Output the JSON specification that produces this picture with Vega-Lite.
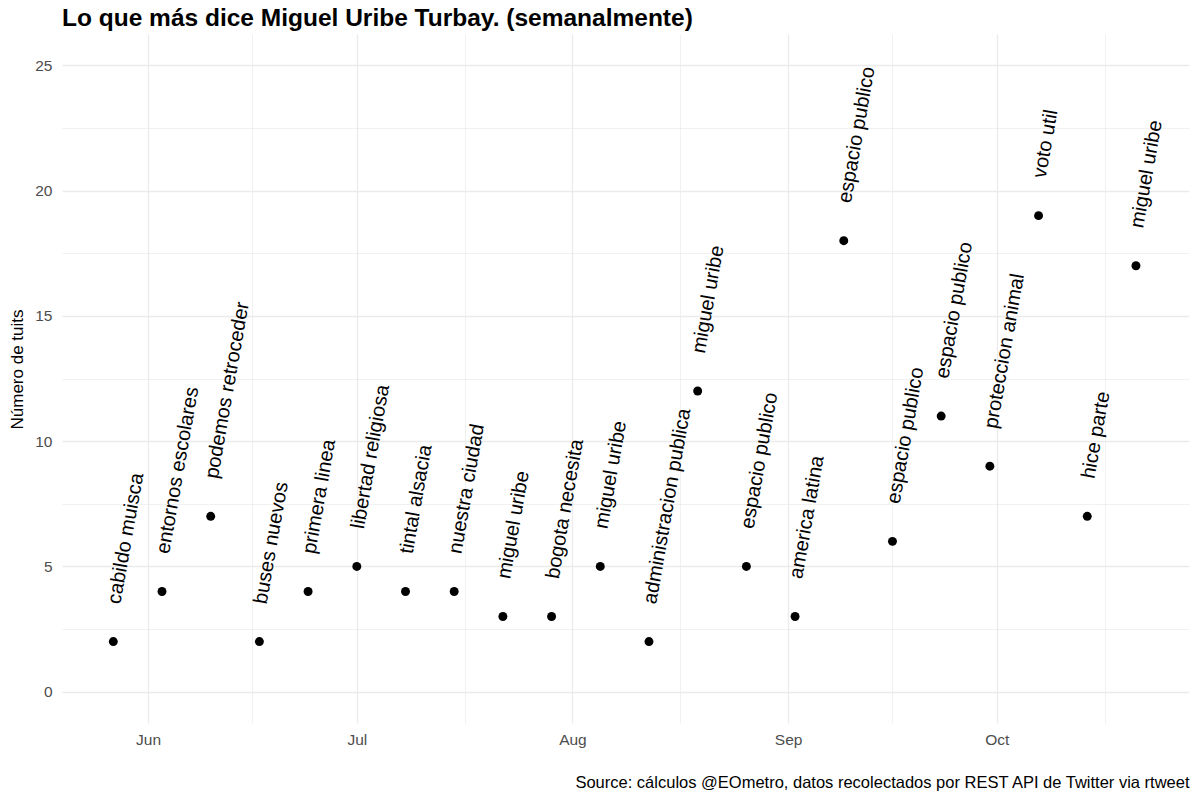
{
  "$schema": "https://vega.github.io/schema/vega-lite/v6.json",
  "width": 1127,
  "height": 689,
  "autosize": {"type": "none"},
  "padding": {"left": 62, "top": 34, "right": 11, "bottom": 80},
  "background": "white",
  "title": {
    "text": "Lo que más dice Miguel Uribe Turbay. (semanalmente)",
    "anchor": "start",
    "frame": "group",
    "font": "Liberation Sans",
    "fontSize": 24.5,
    "fontWeight": "bold",
    "color": "black",
    "offset": 3
  },
  "config": {
    "view": {"stroke": null},
    "font": "Liberation Sans"
  },
  "data": {
    "values": [
      {"week": "2019-05-27", "n": 2, "word": "cabildo muisca"},
      {"week": "2019-06-03", "n": 4, "word": "entornos escolares"},
      {"week": "2019-06-10", "n": 7, "word": "podemos retroceder"},
      {"week": "2019-06-17", "n": 2, "word": "buses nuevos"},
      {"week": "2019-06-24", "n": 4, "word": "primera linea"},
      {"week": "2019-07-01", "n": 5, "word": "libertad religiosa"},
      {"week": "2019-07-08", "n": 4, "word": "tintal alsacia"},
      {"week": "2019-07-15", "n": 4, "word": "nuestra ciudad"},
      {"week": "2019-07-22", "n": 3, "word": "miguel uribe"},
      {"week": "2019-07-29", "n": 3, "word": "bogota necesita"},
      {"week": "2019-08-05", "n": 5, "word": "miguel uribe"},
      {"week": "2019-08-12", "n": 2, "word": "administracion publica"},
      {"week": "2019-08-19", "n": 12, "word": "miguel uribe"},
      {"week": "2019-08-26", "n": 5, "word": "espacio publico"},
      {"week": "2019-09-02", "n": 3, "word": "america latina"},
      {"week": "2019-09-09", "n": 18, "word": "espacio publico"},
      {"week": "2019-09-16", "n": 6, "word": "espacio publico"},
      {"week": "2019-09-23", "n": 11, "word": "espacio publico"},
      {"week": "2019-09-30", "n": 9, "word": "proteccion animal"},
      {"week": "2019-10-07", "n": 19, "word": "voto util"},
      {"week": "2019-10-14", "n": 7, "word": "hice parte"},
      {"week": "2019-10-21", "n": 17, "word": "miguel uribe"}
    ]
  },
  "encoding": {
    "x": {
      "field": "week",
      "type": "temporal",
      "scale": {
        "type": "utc",
        "domain": [
          {"year": 2019, "month": 5, "date": 19, "hours": 15, "utc": true},
          {"year": 2019, "month": 10, "date": 28, "hours": 15, "utc": true}
        ],
        "nice": false
      },
      "axis": {
        "title": "Source: cálculos @EOmetro, datos recolectados por REST API de Twitter via rtweet",
        "titleAnchor": "end",
        "titleFont": "Liberation Sans",
        "titleFontSize": 16.5,
        "titleFontWeight": "normal",
        "titleColor": "black",
        "titlePadding": 27,
        "values": [
          {"year": 2019, "month": 6, "date": 1, "utc": true},
          {"year": 2019, "month": 6, "date": 16, "utc": true},
          {"year": 2019, "month": 7, "date": 1, "utc": true},
          {"year": 2019, "month": 7, "date": 16, "hours": 12, "utc": true},
          {"year": 2019, "month": 8, "date": 1, "utc": true},
          {"year": 2019, "month": 8, "date": 16, "hours": 12, "utc": true},
          {"year": 2019, "month": 9, "date": 1, "utc": true},
          {"year": 2019, "month": 9, "date": 16, "utc": true},
          {"year": 2019, "month": 10, "date": 1, "utc": true},
          {"year": 2019, "month": 10, "date": 16, "hours": 12, "utc": true}
        ],
        "labelExpr": "utcdate(datum.value) == 1 ? utcFormat(datum.value, '%b') : ''",
        "labelFont": "Liberation Sans",
        "labelFontSize": 15.5,
        "labelColor": "#4D4D4D",
        "labelPadding": 9,
        "labelOverlap": false,
        "ticks": false,
        "domain": false,
        "grid": true,
        "gridColor": "#EBEBEB",
        "gridWidth": {"condition": {"test": "utcdate(datum.value) == 1", "value": 1.3}, "value": 0.7}
      }
    },
    "y": {
      "field": "n",
      "type": "quantitative",
      "scale": {"domain": [-1.25, 26.25], "nice": false, "zero": false},
      "axis": {
        "title": "Número de tuits",
        "titleFont": "Liberation Sans",
        "titleFontSize": 17,
        "titleFontWeight": "normal",
        "titleColor": "black",
        "titlePadding": 8,
        "titleY": 335,
        "values": [0, 2.5, 5, 7.5, 10, 12.5, 15, 17.5, 20, 22.5, 25],
        "labelExpr": "datum.value % 5 == 0 ? format(datum.value, 'd') : ''",
        "labelFont": "Liberation Sans",
        "labelFontSize": 15.5,
        "labelColor": "#4D4D4D",
        "labelPadding": 10,
        "ticks": false,
        "domain": false,
        "grid": true,
        "gridColor": "#EBEBEB",
        "gridWidth": {"condition": {"test": "datum.value % 5 == 0", "value": 1.3}, "value": 0.7}
      }
    }
  },
  "layer": [
    {
      "mark": {"type": "point", "filled": true, "size": 80, "color": "black", "opacity": 1}
    },
    {
      "mark": {
        "type": "text",
        "angle": 280,
        "align": "left",
        "baseline": "middle",
        "radius": 38,
        "theta": 0.03,
        "font": "Liberation Sans",
        "fontSize": 20,
        "color": "black"
      },
      "encoding": {"text": {"field": "word"}}
    }
  ]
}
